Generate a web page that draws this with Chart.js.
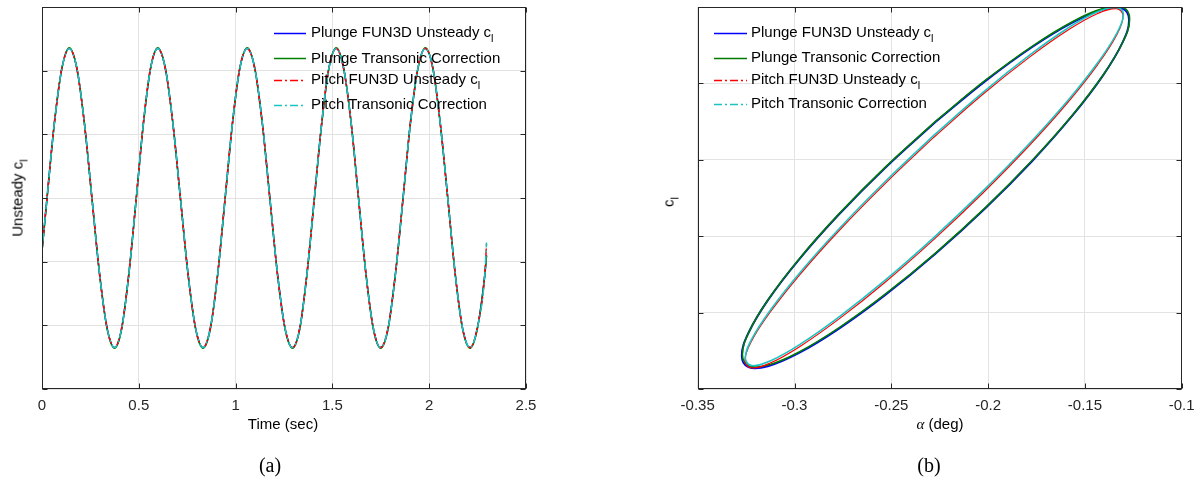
<!DOCTYPE html>
<html>
<head>
<meta charset="utf-8">
<script src="https://cdn.jsdelivr.net/npm/chart.js@4.4.0/dist/chart.umd.min.js"></script>
<style>
  body { margin: 0; background: #fff; width: 1204px; height: 489px; position: relative; overflow: hidden;
         font-family: "Liberation Sans", Arial, sans-serif; }
  .plot { position: absolute; top: 0; }
  .lbl { position: absolute; font-size: 15px; line-height: 17px; color: #000; white-space: nowrap; }
  .sub { font-size: 11px; position: relative; top: 5px; }
  .rot { position: absolute; font-size: 15px; line-height: 17px; color: #000; white-space: nowrap;
         transform: translate(-50%, -50%) rotate(-90deg); }
  .xt { position: absolute; font-size: 15px; line-height: 17px; color: #000; white-space: nowrap; transform: translateX(-50%); }
  .cap { position: absolute; font-family: "Liberation Serif", "Times New Roman", serif; font-size: 20px; color: #000;
         transform: translate(-50%, -50%); }
</style>
</head>
<body>

<div class="plot" style="left:0; width:560px; height:440px;"><canvas id="timeChart" width="560" height="440"></canvas></div>
<div class="plot" style="left:600px; width:604px; height:440px;"><canvas id="loopChart" width="604" height="440"></canvas></div>

<!-- legend (a) -->
<div class="lbl" style="left:311px; top:23px;">Plunge FUN3D Unsteady c<span class="sub">l</span></div>
<div class="lbl" style="left:311px; top:49px;">Plunge Transonic Correction</div>
<div class="lbl" style="left:311px; top:70px;">Pitch FUN3D Unsteady c<span class="sub">l</span></div>
<div class="lbl" style="left:311px; top:95px;">Pitch Transonic Correction</div>

<!-- legend (b) -->
<div class="lbl" style="left:751px; top:23px;">Plunge FUN3D Unsteady c<span class="sub">l</span></div>
<div class="lbl" style="left:751px; top:48px;">Plunge Transonic Correction</div>
<div class="lbl" style="left:751px; top:70px;">Pitch FUN3D Unsteady c<span class="sub">l</span></div>
<div class="lbl" style="left:751px; top:94px;">Pitch Transonic Correction</div>

<!-- axis titles -->
<div class="rot" style="left:18px; top:198px;">Unsteady c<span class="sub">l</span></div>
<div class="rot" style="left:669px; top:202px;">c<span class="sub">l</span></div>
<div class="xt" style="left:283px; top:415px;">Time (sec)</div>
<div class="xt" style="left:940px; top:415px;"><i style="font-family:'Liberation Serif',serif;">α</i> (deg)</div>

<div class="cap" style="left:270px; top:465px;">(a)</div>
<div class="cap" style="left:929px; top:465px;">(b)</div>

<script>
// ================= DATA (a): unsteady cl vs time =================
const timeSec = [0, 0.026, 0.064, 0.103, 0.141, 0.180, 0.219, 0.258, 0.297, 0.336, 0.375, 0.412, 0.449, 0.487,
  0.524, 0.561, 0.598, 0.637, 0.676, 0.715, 0.754, 0.793, 0.832, 0.870, 0.908, 0.946, 0.984, 1.022, 1.060,
  1.099, 1.138, 1.177, 1.216, 1.255, 1.294, 1.332, 1.369, 1.407, 1.445, 1.482, 1.520, 1.558, 1.597, 1.635,
  1.673, 1.711, 1.749, 1.788, 1.826, 1.865, 1.903, 1.942, 1.980, 2.019, 2.057, 2.096, 2.134, 2.172, 2.211,
  2.249, 2.288, 2.296];
const clPlungeFun3d = [-0.83, 0,
  1.18, 2.04, 2.35, 2.04, 1.18, 0, -1.18, -2.04, -2.35, -2.04, -1.18, 0,
  1.18, 2.04, 2.35, 2.04, 1.18, 0, -1.18, -2.04, -2.35, -2.04, -1.18, 0,
  1.18, 2.04, 2.35, 2.04, 1.18, 0, -1.18, -2.04, -2.35, -2.04, -1.18, 0,
  1.18, 2.04, 2.35, 2.04, 1.18, 0, -1.18, -2.04, -2.35, -2.04, -1.18, 0,
  1.18, 2.04, 2.35, 2.04, 1.18, 0, -1.18, -2.04, -2.35,
  -2.04, -1.18, -0.90];
const clPlungeCorr = [-0.84, -0.01,
  1.17, 2.04, 2.36, 2.04, 1.17, -0.01, -1.19, -2.05, -2.36, -2.05, -1.19, -0.01,
  1.17, 2.04, 2.36, 2.04, 1.17, -0.01, -1.19, -2.05, -2.36, -2.05, -1.19, -0.01,
  1.17, 2.04, 2.36, 2.04, 1.17, -0.01, -1.19, -2.05, -2.36, -2.05, -1.19, -0.01,
  1.17, 2.04, 2.36, 2.04, 1.17, -0.01, -1.19, -2.05, -2.36, -2.05, -1.19, -0.01,
  1.17, 2.04, 2.36, 2.04, 1.17, -0.01, -1.19, -2.05, -2.36,
  -2.05, -1.19, -0.91];
const clPitchFun3d = [-0.82, 0.01,
  1.19, 2.05, 2.35, 2.03, 1.17, -0.01, -1.19, -2.04, -2.35, -2.03, -1.17, 0.01,
  1.19, 2.05, 2.35, 2.03, 1.17, -0.01, -1.19, -2.04, -2.35, -2.03, -1.17, 0.01,
  1.19, 2.05, 2.35, 2.03, 1.17, -0.01, -1.19, -2.04, -2.35, -2.03, -1.17, 0.01,
  1.19, 2.05, 2.35, 2.03, 1.17, -0.01, -1.19, -2.04, -2.35, -2.03, -1.17, 0.01,
  1.19, 2.05, 2.35, 2.03, 1.17, -0.01, -1.19, -2.04, -2.35,
  -2.03, -1.17, -0.72];
const clPitchCorr = [-0.83, 0,
  1.18, 2.04, 2.35, 2.04, 1.18, 0, -1.18, -2.04, -2.35, -2.04, -1.18, 0,
  1.18, 2.04, 2.35, 2.04, 1.18, 0, -1.18, -2.04, -2.35, -2.04, -1.18, 0,
  1.18, 2.04, 2.35, 2.04, 1.18, 0, -1.18, -2.04, -2.35, -2.04, -1.18, 0,
  1.18, 2.04, 2.35, 2.04, 1.18, 0, -1.18, -2.04, -2.35, -2.04, -1.18, 0,
  1.18, 2.04, 2.35, 2.04, 1.18, 0, -1.18, -2.04, -2.35,
  -2.04, -1.18, -0.70];
const timeTicks = [0, 0.5, 1, 1.5, 2, 2.5];
const clTimeTicks = [-3, -2, -1, 0, 1, 2, 3];

// ================= DATA (b): cl vs alpha loops =================
const alphaPlungeFun3d = [-0.2272, -0.2013, -0.1772, -0.1565, -0.1406, -0.1306, -0.1272, -0.1306, -0.1406,
  -0.1565, -0.1772, -0.2013, -0.2272, -0.2531, -0.2772, -0.2979, -0.3138, -0.3238, -0.3272, -0.3238,
  -0.3138, -0.2979, -0.2772, -0.2531, -0.2272];
const loopPlungeFun3d = [3.494, 4.033, 4.477, 4.796, 4.967, 4.978, 4.830, 4.533, 4.105,
  3.577, 2.985, 2.369, 1.771, 1.232, 0.788, 0.469, 0.298, 0.287, 0.435, 0.733,
  1.160, 1.688, 2.280, 2.896, 3.494];

const alphaPlungeCorr = [-0.2269, -0.2010, -0.1769, -0.1562, -0.1403, -0.1303, -0.1269, -0.1303, -0.1403,
  -0.1562, -0.1769, -0.2010, -0.2269, -0.2528, -0.2769, -0.2976, -0.3135, -0.3235, -0.3269, -0.3235,
  -0.3135, -0.2976, -0.2769, -0.2528, -0.2269];
const loopPlungeCorr = [3.509, 4.048, 4.492, 4.811, 4.982, 4.993, 4.845, 4.548, 4.120,
  3.592, 3.000, 2.384, 1.786, 1.247, 0.803, 0.484, 0.313, 0.302, 0.450, 0.748,
  1.175, 1.703, 2.295, 2.911, 3.509];

const alphaPitchFun3d = [-0.2280, -0.2027, -0.1791, -0.1589, -0.1434, -0.1336, -0.1303, -0.1336, -0.1434,
  -0.1589, -0.1791, -0.2027, -0.2280, -0.2532, -0.2768, -0.2970, -0.3125, -0.3223, -0.3256, -0.3223,
  -0.3125, -0.2970, -0.2768, -0.2532, -0.2280];
const loopPitchFun3d = [3.296, 3.857, 4.334, 4.695, 4.915, 4.979, 4.883, 4.633, 4.247,
  3.750, 3.177, 2.566, 1.959, 1.398, 0.921, 0.560, 0.340, 0.276, 0.372, 0.622,
  1.008, 1.505, 2.078, 2.689, 3.296];

const alphaPitchCorr = [-0.2278, -0.2025, -0.1789, -0.1587, -0.1432, -0.1334, -0.1301, -0.1334, -0.1432,
  -0.1587, -0.1789, -0.2025, -0.2278, -0.2530, -0.2766, -0.2968, -0.3123, -0.3221, -0.3254, -0.3221,
  -0.3123, -0.2968, -0.2766, -0.2530, -0.2278];
const loopPitchCorr = [3.326, 3.887, 4.364, 4.725, 4.940, 4.992, 4.910, 4.663, 4.277,
  3.780, 3.207, 2.596, 1.989, 1.428, 0.951, 0.590, 0.370, 0.306, 0.402, 0.652,
  1.038, 1.535, 2.108, 2.719, 3.326];
const alphaTicks = [-0.35, -0.3, -0.25, -0.2, -0.15, -0.1];
const clLoopTicks = [0, 1, 2, 3, 4, 5];

// ================= HELPERS =================
const pts = (xs, ys) => xs.map((x, i) => ({ x, y: ys[i] }));
const AXIS = '#262626';
const GRID = '#e3e3e3';
const DASHDOT = [8, 3, 2, 3];
const tickFont = { family: '"Liberation Sans", Arial, sans-serif', size: 15 };

function series(label, data, color, dash, order, extra) {
  return Object.assign({
    label, data, borderColor: color, backgroundColor: color, borderWidth: 1.5,
    borderDash: dash || [], legendDash: dash || [], showLine: true, pointRadius: 0, fill: false, order
  }, extra || {});
}

// box + inward ticks + legend samples, MATLAB style
const boxPlugin = {
  id: 'matlabBox',
  afterDraw(chart, args, opts) {
    const { ctx, chartArea: a, scales } = chart;
    const L = Math.round(a.left) + 0.5, R = Math.round(a.right) - 0.5;
    const T = Math.round(a.top) + 0.5, B = Math.round(a.bottom) - 0.5;
    ctx.save();
    ctx.strokeStyle = AXIS;
    ctx.lineWidth = 1;
    ctx.setLineDash([]);
    ctx.beginPath();
    scales.x.ticks.forEach(t => {
      const px = Math.round(scales.x.getPixelForValue(t.value)) + 0.5;
      ctx.moveTo(px, B); ctx.lineTo(px, B - 5);
      ctx.moveTo(px, T); ctx.lineTo(px, T + 5);
    });
    scales.y.ticks.forEach(t => {
      const py = Math.round(scales.y.getPixelForValue(t.value)) + 0.5;
      ctx.moveTo(L, py); ctx.lineTo(L + 5, py);
      ctx.moveTo(R, py); ctx.lineTo(R - 5, py);
    });
    ctx.stroke();
    ctx.strokeRect(L, T, R - L, B - T);

    // legend line samples
    chart.data.datasets.forEach((ds, i) => {
      const y = opts.rows[i] + 0.5;
      ctx.beginPath();
      ctx.strokeStyle = ds.borderColor;
      ctx.lineWidth = opts.width || ds.borderWidth;
      ctx.setLineDash(ds.legendDash);
      ctx.moveTo(opts.x0, y);
      ctx.lineTo(opts.x1, y);
      ctx.stroke();
    });
    ctx.restore();
  }
};

function axes(xMin, xMax, xTicks, yMin, yMax, yTicks, yWidth, xHeight) {
  return {
    x: {
      type: 'linear', min: xMin, max: xMax,
      afterBuildTicks: s => { s.ticks = xTicks.map(v => ({ value: v })); },
      afterFit: s => { s.height = xHeight; },
      grid: { color: GRID, drawTicks: false },
      border: { display: false },
      ticks: { font: tickFont, color: AXIS, padding: 8, maxRotation: 0,
               callback: v => String(+v.toFixed(2)) }
    },
    y: {
      type: 'linear', min: yMin, max: yMax,
      afterBuildTicks: s => { s.ticks = yTicks.map(v => ({ value: v })); },
      afterFit: s => { s.width = yWidth; },
      grid: { color: GRID, drawTicks: false },
      border: { display: false },
      ticks: { display: false }
    }
  };
}

// ================= CHART (a) =================
new Chart(document.getElementById('timeChart'), {
  type: 'scatter',
  data: {
    datasets: [
      series('Plunge FUN3D Unsteady cl', pts(timeSec, clPlungeFun3d), '#0000ff', null, 4),
      series('Plunge Transonic Correction', pts(timeSec, clPlungeCorr), '#008000', null, 3),
      series('Pitch FUN3D Unsteady cl', pts(timeSec, clPitchFun3d), '#ff0000', DASHDOT, 2),
      series('Pitch Transonic Correction', pts(timeSec, clPitchCorr), '#1cc4c4', DASHDOT, 1, { borderDashOffset: 6 })
    ].map(d => Object.assign(d, { cubicInterpolationMode: 'monotone' }))
  },
  options: {
    responsive: false, animation: false, devicePixelRatio: 1,
    layout: { padding: { top: 7, right: 34, left: 0, bottom: 0 } },
    plugins: { legend: { display: false }, tooltip: { enabled: false },
               matlabBox: { x0: 274, x1: 306, rows: [33, 58, 80, 105] } },
    scales: axes(0, 2.5, timeTicks, -3, 3, clTimeTicks, 42, 51)
  },
  plugins: [boxPlugin]
});

// ================= CHART (b) =================
// the repeated cycles overlap so the dash-dot pitch curves read as solid lines
new Chart(document.getElementById('loopChart'), {
  type: 'scatter',
  data: {
    datasets: [
      series('Plunge FUN3D Unsteady cl', pts(alphaPlungeFun3d, loopPlungeFun3d), '#0000ff', null, 4, { tension: 0.4, borderWidth: 2 }),
      series('Plunge Transonic Correction', pts(alphaPlungeCorr, loopPlungeCorr), '#007a00', null, 3, { tension: 0.4, borderWidth: 1.6 }),
      series('Pitch FUN3D Unsteady cl', pts(alphaPitchFun3d, loopPitchFun3d), '#ff0000', DASHDOT, 2,
             { tension: 0.4, borderWidth: 1.2, borderDash: [] }),
      series('Pitch Transonic Correction', pts(alphaPitchCorr, loopPitchCorr), '#1cc4c4', DASHDOT, 1,
             { tension: 0.4, borderWidth: 1.6, borderDash: [] })
    ]
  },
  options: {
    responsive: false, animation: false, devicePixelRatio: 1,
    layout: { padding: { top: 7, right: 22.3, left: 0, bottom: 0 } },
    plugins: { legend: { display: false }, tooltip: { enabled: false },
               matlabBox: { x0: 114, x1: 147, rows: [33, 58, 80, 104], width: 1.3 } },
    scales: axes(-0.35, -0.1, alphaTicks, 0, 5, clLoopTicks, 97.7, 51)
  },
  plugins: [boxPlugin]
});
</script>
</body>
</html>
